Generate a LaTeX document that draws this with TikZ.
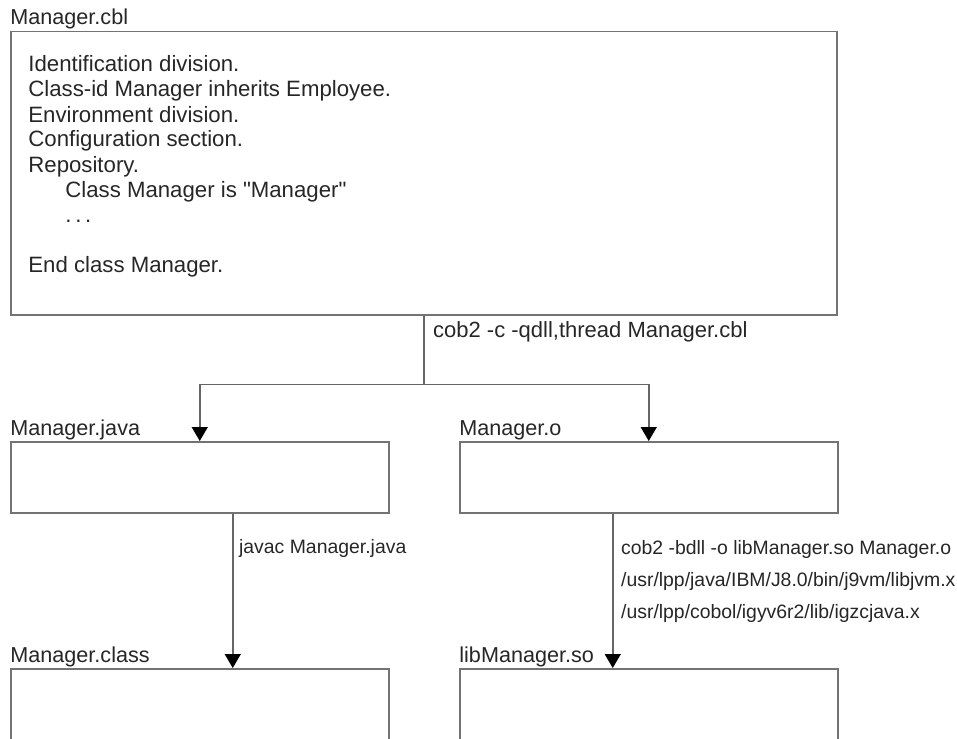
\documentclass[tikz,border=0pt]{standalone}
\usepackage{fontspec}
\setmainfont{Liberation Sans}[Ligatures=TeXOff]
\usetikzlibrary{calc,arrows.meta}

\begin{document}
\begin{tikzpicture}
[   x=0.5pt,y=-0.5pt,
    filebox/.style={draw=black!55,line width=0.75pt,inner sep=0pt,anchor=north west,
        minimum width=189pt,minimum height=35.5pt},
    title/.style={anchor=base west,inner sep=0pt,text=black!85,font=\fontsize{10.8}{13}\selectfont},
    code/.style={anchor=base west,inner sep=0pt,text=black!85,font=\fontsize{11.1}{13}\selectfont},
    cmd/.style={anchor=base west,inner sep=0pt,text=black!85,font=\fontsize{#1}{13}\selectfont},
    cmd/.default=11,
]
\tikzset{flow/.style={draw=black!60,line width=0.75pt,-{Triangle[length=7pt,width=8pt,color=black]}}}
\useasboundingbox (0,0) rectangle (957,738);
\clip (0,0) rectangle (957,738);

% files
\node[filebox,minimum width=413pt,minimum height=141.5pt] (cbl) at (10,31) {};
\node[filebox] (java) at (10,441) {};
\node[filebox] (obj) at (459,441) {};
\node[filebox,minimum height=60pt] (class) at (10,668) {};
\node[filebox,minimum height=60pt] (so) at (459,668) {};

\node[title] (cbl-name) at ($(cbl.north west)+(0,-6)$) {Manager.cbl};
\foreach \b/\t in {java/Manager.java,obj/Manager.o,class/Manager.class,so/libManager.so}
{
	\node[title] (\b-name) at ($(\b.north west)+(0,-6)$) {\t};
}

% source text
\foreach \n/\dx/\txt in {0/0/Identification division.,1/0/Class-id Manager inherits Employee.,
	2/0/Environment division.,3/0/Configuration section.,4/0/Repository.,
	5/1/Class Manager is "Manager",6/1/{.\,.\,.},8/0/End class Manager.}
{
	\node[code] (line-\n) at ($(cbl.north west)+(18+37*\dx,41+25*\n)$) {\txt};
}

% compile steps
\coordinate (split) at ($(cbl.south)+(0,69)$);
\draw[flow,-] (cbl.south) -- (split);
\draw[flow] (split) -| (java.north);
\draw[flow] (split) -| (obj.north);
\node[cmd] (cob-c) at ($(cbl.south)+(9,22)$) {cob2 -c -qdll,thread Manager.cbl};

\draw[flow] ($(java.south)+(33,0)$) -- ($(class.north)+(33,0)$);
\node[cmd=9.7] (javac) at ($(java.south)+(39,40)$) {javac Manager.java};

\draw[flow] ($(obj.south)+(-36,0)$) -- ($(so.north)+(-36,0)$);
\foreach \n/\txt in {0/{cob2 -bdll -o libManager.so Manager.o},1/{/usr/lpp/java/IBM/J8.0/bin/j9vm/libjvm.x},2/{/usr/lpp/cobol/igyv6r2/lib/igzcjava.x}}
{
	\node[cmd=9.7] (link-\n) at ($(obj.south)+(-28,41+32*\n)$) {\txt};
}
\end{tikzpicture}
\end{document}
